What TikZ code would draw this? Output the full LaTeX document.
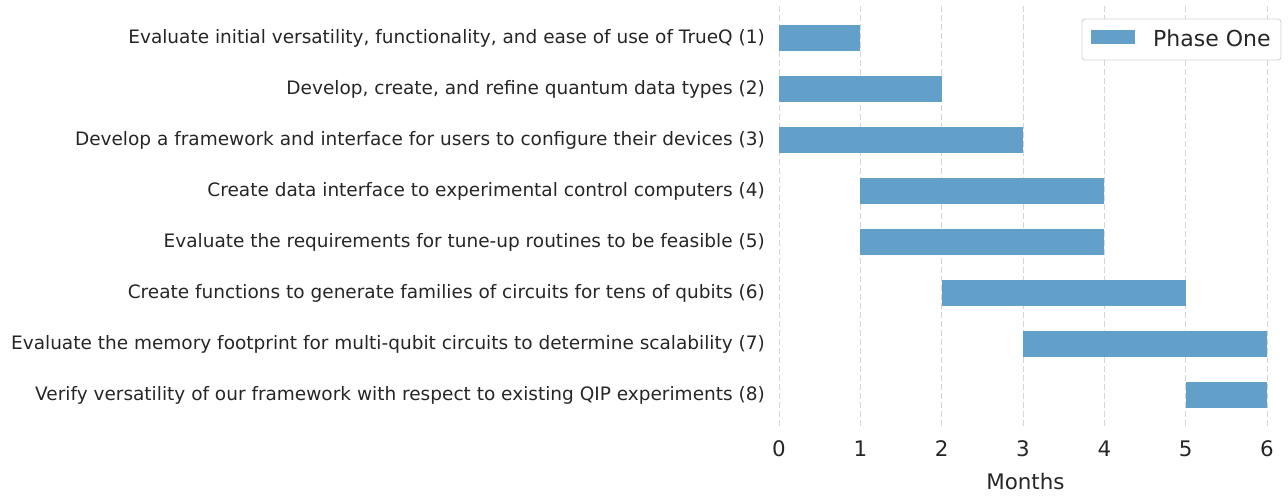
\documentclass[tikz,border=0pt]{standalone}
\usepackage{fontspec}
\setmainfont{DejaVu Sans}
\definecolor{barblue}{HTML}{62A0CA}
\definecolor{txt}{HTML}{262626}
\definecolor{gridc}{HTML}{D4D4D4}
\begin{document}
\begin{tikzpicture}[x=1pt,y=-1pt,
  ylab/.style={anchor=east,inner sep=0pt,text=txt,font=\fontsize{18.5}{21}\selectfont},
  tlab/.style={anchor=center,inner sep=0pt,text=txt,font=\fontsize{21.4}{25}\selectfont},
  gridline/.style={draw=gridc,dashed,dash pattern=on 6pt off 3pt,line width=0.9pt},
  barbox/.style={fill=barblue,draw=none},
]
\useasboundingbox (0,0) rectangle (1288,500);
\begin{scope}[x=81.333pt,xshift=779pt]
  % grid
  \foreach \m in {0,...,6} {
    \draw[gridline] (\m,6) -- (\m,427);
    \node[tlab] (t\m) at (\m,449) {\m};
  }
  \node[tlab] (xlabel) at (3.03,482) {Months};
  % bars
  \foreach \i/\a/\b/\yy in {1/0/1/38, 2/0/2/89, 3/0/3/140, 4/1/4/191, 5/1/4/242, 6/2/5/293, 7/3/6/344, 8/5/6/395} {
    \fill[barbox] (\a,\yy-12.75) rectangle (\b,\yy+12.75);
  }
\end{scope}
% y labels
\node[ylab] (l1) at (765,38) {Evaluate initial versatility, functionality, and ease of use of TrueQ (1)};
\node[ylab] (l2) at (765,89) {Develop, create, and refine quantum data types (2)};
\node[ylab] (l3) at (765,140) {Develop a framework and interface for users to configure their devices (3)};
\node[ylab] (l4) at (765,191) {Create data interface to experimental control computers (4)};
\node[ylab] (l5) at (765,242) {Evaluate the requirements for tune-up routines to be feasible (5)};
\node[ylab] (l6) at (765,293) {Create functions to generate families of circuits for tens of qubits (6)};
\node[ylab] (l7) at (765,344) {Evaluate the memory footprint for multi-qubit circuits to determine scalability (7)};
\node[ylab] (l8) at (765,395) {Verify versatility of our framework with respect to existing QIP experiments (8)};
% legend
\draw[draw=gridc,fill=white,rounded corners=3pt,line width=0.9pt] (1082,19) rectangle (1281,60);
\fill[barblue] (1091,30) rectangle (1135,44);
\node[anchor=west,inner sep=0pt,text=txt,font=\fontsize{22}{26}\selectfont] (leg) at (1153,38) {Phase One};
\end{tikzpicture}
\end{document}
